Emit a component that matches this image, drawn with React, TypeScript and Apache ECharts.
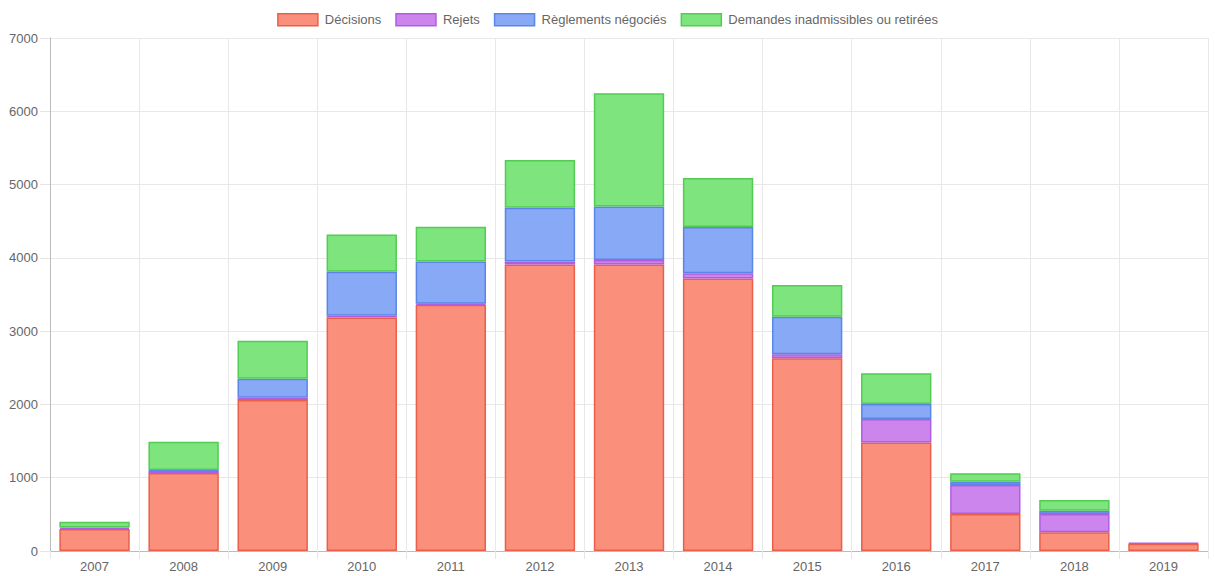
import React, { useEffect, useRef } from "react";
import * as echarts from "echarts";

const years = ["2007","2008","2009","2010","2011","2012","2013","2014","2015","2016","2017","2018","2019"];
const decisions = [300, 1065, 2060, 3185, 3360, 3910, 3910, 3720, 2630, 1480, 505, 255, 100];
const rejets = [20, 30, 30, 25, 15, 40, 60, 70, 55, 320, 395, 250, 12];
const negocies = [0, 10, 260, 600, 575, 735, 730, 630, 510, 205, 45, 45, 0];
const demandes = [80, 385, 520, 510, 475, 650, 1545, 670, 435, 420, 115, 145, 0];
const yTicks = { min: 0, max: 7000, interval: 1000 };

const seriesDefs = [
  { name: "Décisions", data: decisions, fill: "#fa907b", border: "#e8604b" },
  { name: "Rejets", data: rejets, fill: "#cd85ee", border: "#b05ee0" },
  { name: "Règlements négociés", data: negocies, fill: "#88a9f5", border: "#5c86e6" },
  { name: "Demandes inadmissibles ou retirées", data: demandes, fill: "#7ee57e", border: "#52cc52" },
];

export default function App() {
  const ref = useRef<HTMLDivElement>(null);
  useEffect(() => {
    if (!ref.current) return;
    const chart = echarts.init(ref.current, undefined, { renderer: "svg" });
    const font = "Liberation Sans, Arial, sans-serif";
    chart.setOption({
      animation: false,
      textStyle: { fontFamily: font },
      legend: {
        top: 8,
        left: "center",
        itemWidth: 40,
        itemHeight: 12,
        itemGap: 14,
        icon: "rect",
        textStyle: { color: "#666", fontSize: 13, fontFamily: font, padding: [0, 0, 0, 2] },
        data: seriesDefs.map((s) => ({ name: s.name, itemStyle: { color: s.fill, borderColor: s.border, borderWidth: 1.5 } })),
      },
      grid: { left: 50, right: 7, top: 38, bottom: 25, containLabel: false },
      xAxis: {
        type: "category",
        data: years,
        boundaryGap: true,
        axisLine: { lineStyle: { color: "#bbb" } },
        axisTick: { show: true, length: 8, lineStyle: { color: "#e5e5e5" } },
        axisLabel: { color: "#666", fontSize: 13, margin: 9, fontFamily: font },
        splitLine: { show: true, lineStyle: { color: "#e8e8e8" } },
      },
      yAxis: {
        type: "value",
        min: yTicks.min,
        max: yTicks.max,
        interval: yTicks.interval,
        axisLine: { show: true, lineStyle: { color: "#bbb" } },
        axisTick: { show: true, length: 10, lineStyle: { color: "#e5e5e5" } },
        axisLabel: { color: "#666", fontSize: 13, margin: 12, fontFamily: font, formatter: (v: number) => String(v) },
        splitLine: { show: true, lineStyle: { color: "#e8e8e8" } },
      },
      series: seriesDefs.map((s) => ({
        name: s.name,
        type: "bar",
        stack: "total",
        barCategoryGap: "21%",
        data: s.data.map((v) => (v === 0 ? "-" : v)),
        itemStyle: { color: s.fill, borderColor: s.border, borderWidth: 1.5 },
      })),
    });
    return () => chart.dispose();
  }, []);
  return <div ref={ref} style={{ position: "fixed", left: 0, top: 0, width: 1215, height: 576, background: "#fff" }} />;
}
